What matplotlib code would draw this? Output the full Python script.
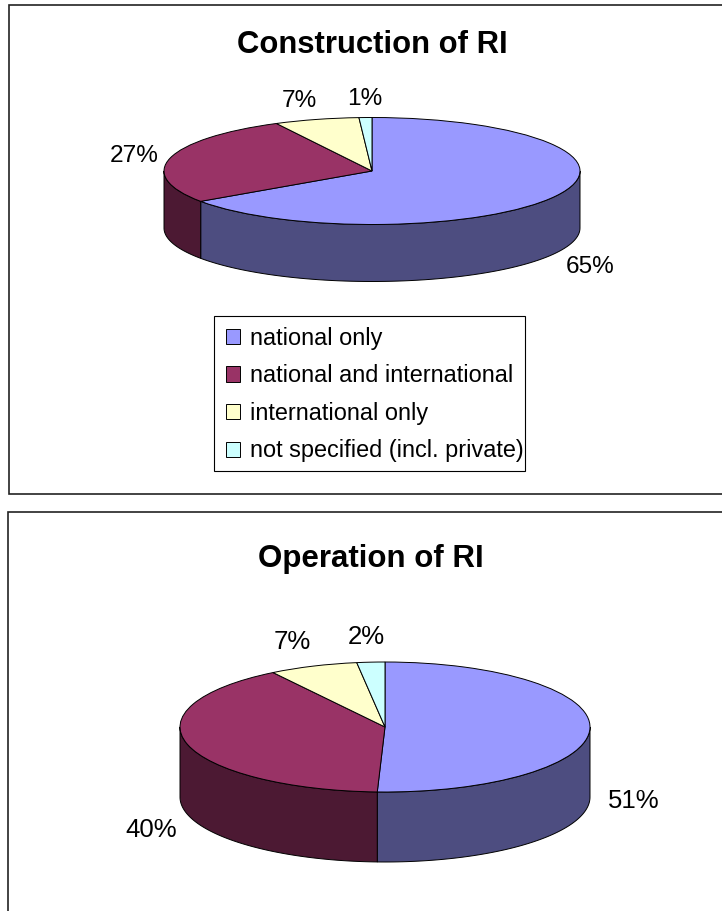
import numpy as np
import matplotlib
matplotlib.use('Agg')
import matplotlib.pyplot as plt
from matplotlib.patches import Rectangle

W, H = 722, 911

categories = ['national only', 'national and international', 'international only', 'not specified (incl. private)']
# slice sizes, the labels show them rounded
construction = [65.4, 27.0, 6.6, 1.0]
operation = [50.6, 40.2, 7.0, 2.2]

top_colors = ['#9999FF', '#993366', '#FFFFCC', '#CCFFFF']
side_colors = ['#4D4D80', '#4C1933', '#808066', '#668080']

plt.rcParams['font.family'] = ['Liberation Sans', 'DejaVu Sans']


def fx(x):
  return x / W


def fy(y):
  return 1 - y / H


def draw_pie(fig, values, cx, cy, rx, ry, depth):
  d = depth / ry
  ax = fig.add_axes([fx(cx - rx), fy(cy + ry + depth), 2 * rx / W, (2 * ry + depth) / H])
  # sides go first, only the part of each slice facing the viewer (lower half)
  edges = 90 - 3.6 * np.cumsum([0] + list(values))
  for i in range(len(values)):
    lo = max(edges[i + 1], -180)
    hi = min(edges[i], 0)
    if hi > lo:
      t = np.radians(np.linspace(lo, hi, 80))
      xs = np.concatenate([np.cos(t), np.cos(t[::-1])])
      ys = np.concatenate([np.sin(t), np.sin(t[::-1]) - d])
      ax.fill(xs, ys, facecolor=side_colors[i], edgecolor='black', linewidth=0.7, clip_on=False)
  wedges, _ = ax.pie(values, colors=top_colors, startangle=90, counterclock=False, radius=1,
                     wedgeprops={'edgecolor': 'black', 'linewidth': 0.7, 'clip_on': False})
  ax.set_aspect('auto')
  ax.set_xlim(-1, 1)
  ax.set_ylim(-1 - d, 1)
  return ax, wedges


def add_labels(fig, values, positions, size):
  for v, (x, y) in zip(values, positions):
    fig.text(fx(x), fy(y), f'{v:.0f}%', ha='center', va='center', fontsize=size, color='black')


fig = plt.figure(figsize=(W / 100, H / 100), dpi=100, facecolor='white')

# panel frames run off the right edge of the page
fig.add_artist(Rectangle((fx(9), fy(494)), 2, (494 - 5) / H, transform=fig.transFigure,
                         facecolor='white', edgecolor='#222222', linewidth=1.2, zorder=-2))
fig.add_artist(Rectangle((fx(8), fy(950)), 2, (950 - 512) / H, transform=fig.transFigure,
                         facecolor='white', edgecolor='#222222', linewidth=1.2, zorder=-2))

ax1, wedges1 = draw_pie(fig, construction, 372, 171, 208, 53.5, 57)
ax2, wedges2 = draw_pie(fig, operation, 385, 727, 205, 65, 70)

fig.text(fx(372), fy(45), 'Construction of RI', ha='center', va='center', fontsize=22.3, fontweight='bold')
fig.text(fx(371), fy(559), 'Operation of RI', ha='center', va='center', fontsize=22.5, fontweight='bold')

add_labels(fig, construction, [(590, 267), (134, 156), (299, 101), (365, 99)], 17.6)
add_labels(fig, operation, [(634, 801), (151, 830), (292, 642), (366, 637)], 18.5)

fig.add_artist(Rectangle((fx(214), fy(471)), 311 / W, 155 / H, transform=fig.transFigure,
                         facecolor='white', edgecolor='black', linewidth=0.8, zorder=3))
leg = fig.legend(wedges1, categories, loc='upper left', bbox_to_anchor=(fx(214), fy(315)),
                 frameon=False, fontsize=16.9, borderaxespad=0,
                 borderpad=0.5, labelspacing=0.62, handlelength=0.62, handleheight=0.62,
                 handletextpad=0.4)
leg.set_zorder(5)

fig.savefig('out.png', dpi=100)
